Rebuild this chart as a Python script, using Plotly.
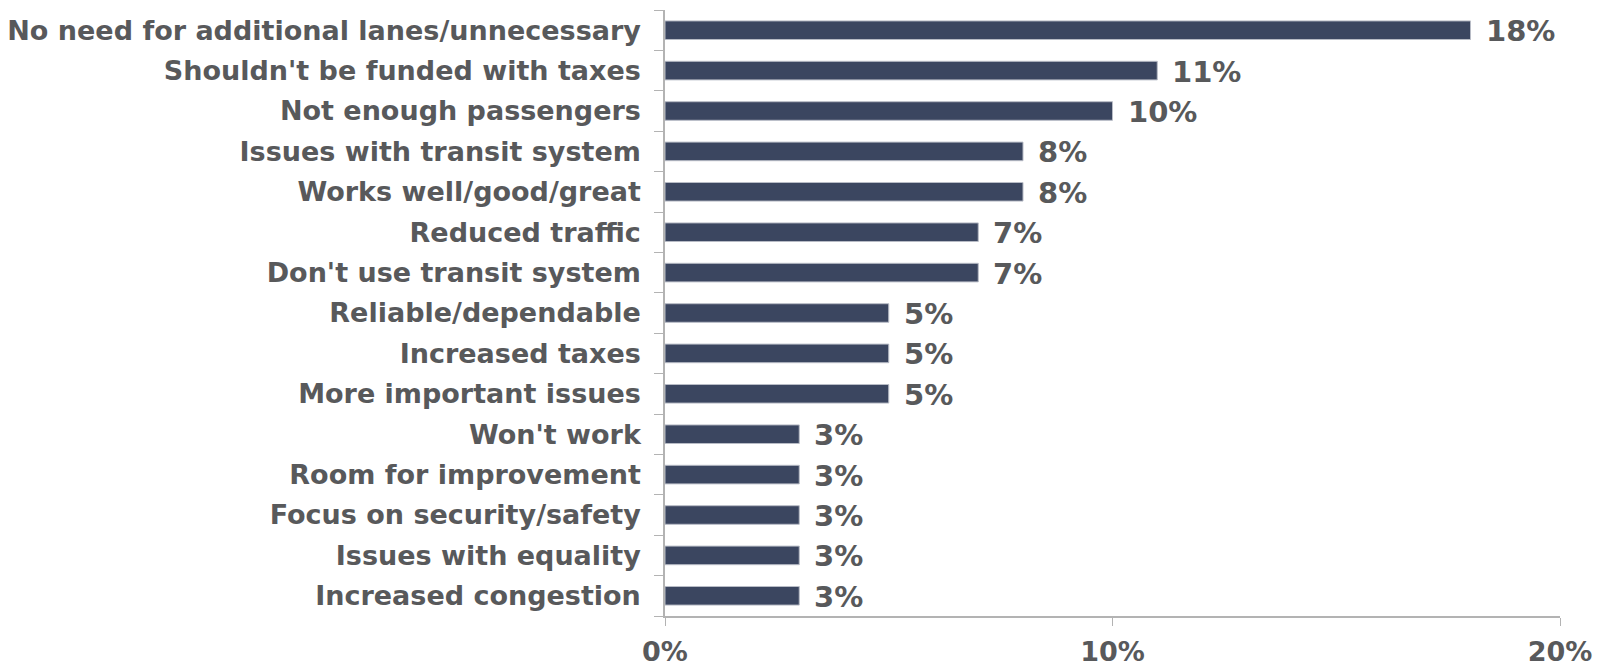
import plotly.graph_objects as go

categories = [
    "No need for additional lanes/unnecessary",
    "Shouldn't be funded with taxes",
    "Not enough passengers",
    "Issues with transit system",
    "Works well/good/great",
    "Reduced traffic",
    "Don't use transit system",
    "Reliable/dependable",
    "Increased taxes",
    "More important issues",
    "Won't work",
    "Room for improvement",
    "Focus on security/safety",
    "Issues with equality",
    "Increased congestion",
]
values = [18, 11, 10, 8, 8, 7, 7, 5, 5, 5, 3, 3, 3, 3, 3]
x_ticks = [0, 10, 20]
x_tick_labels = ["0%", "10%", "20%"]

FONT = "DejaVu Sans, Verdana, sans-serif"
GRAY = "#58595b"

fig = go.Figure()
fig.add_trace(go.Bar(
    x=values,
    y=categories,
    orientation="h",
    marker=dict(color="#3b4660", line=dict(color="#b8bcc6", width=1)),
    width=0.46,
    hoverinfo="skip",
))

for c, v in zip(categories, values):
    fig.add_annotation(
        x=v, y=c, text=f"<b>{v}%</b>", showarrow=False,
        xanchor="left", yanchor="middle", xshift=13, yshift=-1,
        font=dict(family=FONT, size=29, color=GRAY),
    )

fig.update_layout(
    width=1604, height=671,
    margin=dict(l=665, r=44, t=10, b=55),
    plot_bgcolor="white", paper_bgcolor="white",
    showlegend=False,
    font=dict(family=FONT, color=GRAY),
)
fig.update_xaxes(
    range=[0, 20], tickvals=x_ticks,
    ticktext=[f"<b>{t}</b>" for t in x_tick_labels],
    showgrid=False, zeroline=False, automargin=False,
    showline=True, linecolor="#b3b3b3", linewidth=1.5,
    ticks="outside", ticklen=8, tickcolor="#b3b3b3",
    tickfont=dict(family=FONT, size=27, color=GRAY),
    ticklabelstandoff=3,
)
fig.update_yaxes(
    autorange="reversed",
    categoryorder="array", categoryarray=categories,
    showgrid=False, zeroline=False, automargin=False,
    showline=True, linecolor="#b3b3b3", linewidth=1.5,
    ticks="outside", ticklen=9, tickcolor="#b3b3b3", tickson="boundaries",
    tickfont=dict(family=FONT, size=27, color=GRAY),
    ticklabelstandoff=17,
    tickvals=categories,
    ticktext=[f"<b>{c}</b>" for c in categories],
)

fig.write_html("out.html")
